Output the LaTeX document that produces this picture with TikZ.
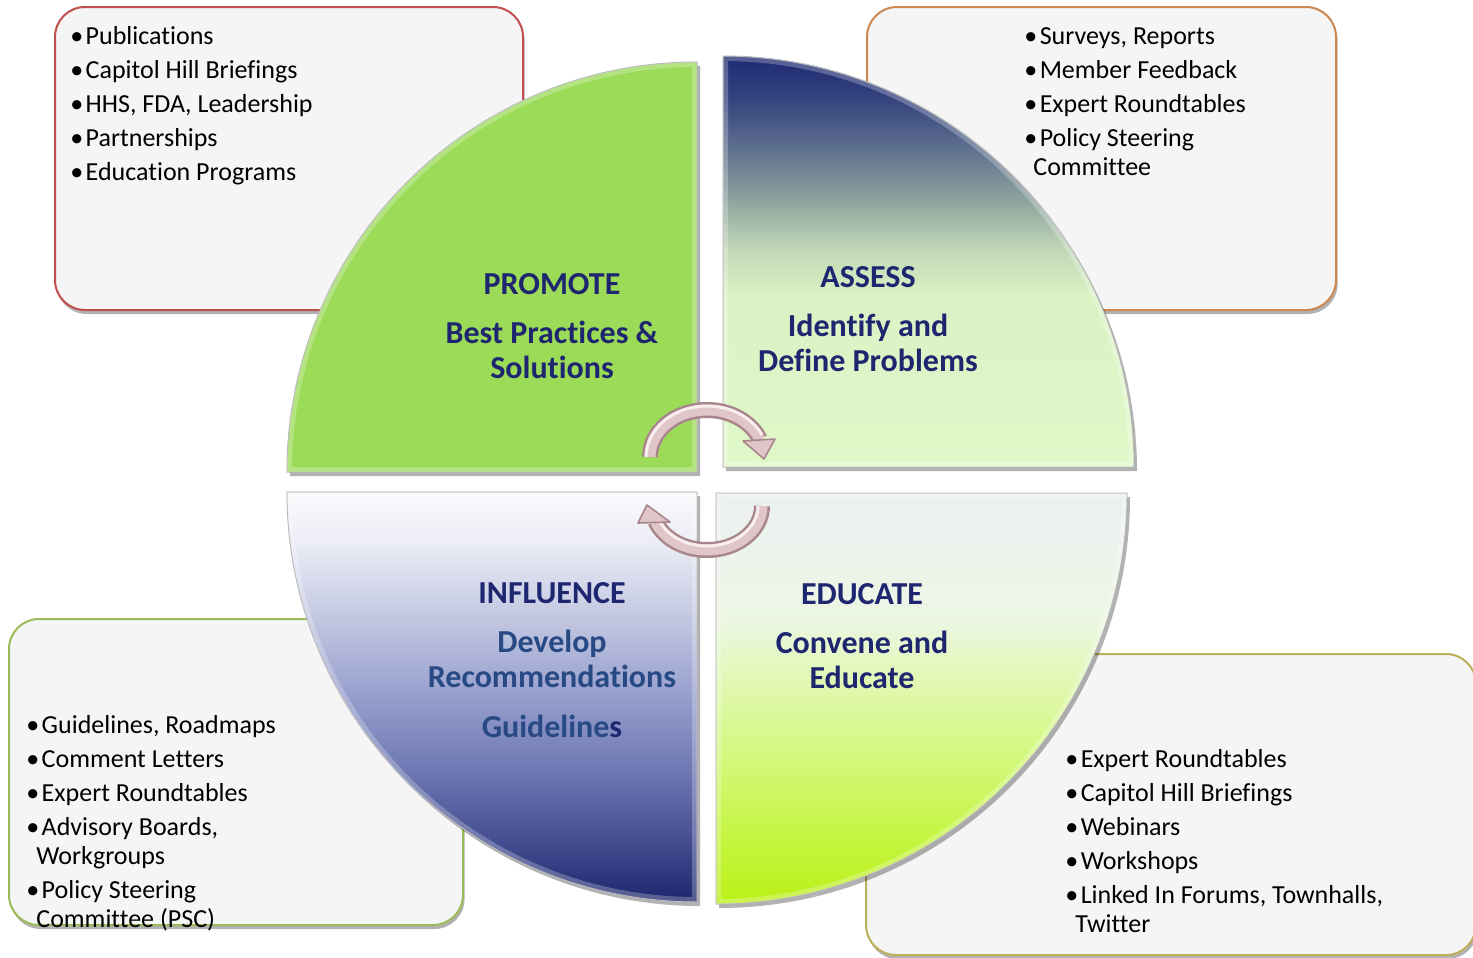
\documentclass[tikz,border=0pt]{standalone}
\usepackage{fontspec}
\setmainfont{Carlito}[Ligatures=NoCommon]
\usetikzlibrary{shadows}
\definecolor{navy}{RGB}{30,38,112}
\definecolor{steel}{RGB}{40,74,132}
\definecolor{boxfill}{RGB}{245,245,245}
\definecolor{bred}{RGB}{192,80,77}
\definecolor{borange}{RGB}{205,135,80}
\definecolor{bgreen}{RGB}{155,187,89}
\definecolor{bolive}{RGB}{190,175,90}
\definecolor{promoteg}{RGB}{156,219,88}
\definecolor{arrdark}{RGB}{168,134,139}
\definecolor{arrmid}{RGB}{224,198,201}
\definecolor{arrlight}{RGB}{248,238,239}
% assess
\definecolor{as0}{RGB}{30,42,115}
\definecolor{as1}{RGB}{52,66,126}
\definecolor{as2}{RGB}{92,110,142}
\definecolor{as3}{RGB}{142,163,160}
\definecolor{as4}{RGB}{192,216,182}
\definecolor{as5}{RGB}{218,242,196}
\definecolor{as6}{RGB}{224,248,200}
% influence
\definecolor{in0}{RGB}{250,250,252}
\definecolor{in1}{RGB}{236,237,246}
\definecolor{in2}{RGB}{196,201,226}
\definecolor{in3}{RGB}{150,158,205}
\definecolor{in4}{RGB}{105,115,175}
\definecolor{in5}{RGB}{68,78,145}
\definecolor{in6}{RGB}{28,38,108}
% educate
\definecolor{ed0}{RGB}{236,240,242}
\definecolor{ed1}{RGB}{236,246,228}
\definecolor{ed2}{RGB}{226,248,182}
\definecolor{ed3}{RGB}{210,248,122}
\definecolor{ed4}{RGB}{196,245,62}
\definecolor{ed5}{RGB}{186,240,22}
\pgfdeclareverticalshading{assessShade}{100bp}{color(0bp)=(as6); color(25bp)=(as6); color(46bp)=(as5); color(51.5bp)=(as4); color(57.5bp)=(as3); color(64bp)=(as2); color(70bp)=(as1); color(75bp)=(as0); color(100bp)=(as0)}
\pgfdeclareverticalshading{influenceShade}{100bp}{color(0bp)=(in6); color(25bp)=(in6); color(32.5bp)=(in5); color(40bp)=(in4); color(50bp)=(in3); color(60bp)=(in2); color(69bp)=(in1); color(75bp)=(in0); color(100bp)=(in0)}
\pgfdeclareverticalshading{educateShade}{100bp}{color(0bp)=(ed5); color(25bp)=(ed5); color(32.5bp)=(ed4); color(42.5bp)=(ed3); color(52.5bp)=(ed2); color(60bp)=(ed1); color(75bp)=(ed0); color(100bp)=(ed0)}
\newcommand\qPromote{(697,472) -- (287,472) arc[start angle=180, end angle=270, radius=410] -- cycle}
\newcommand\qAssess{(723,467) -- (723,56) arc[start angle=270, end angle=360, radius=411] -- cycle}
\newcommand\qInfluence{(697,492) -- (287,492) arc[start angle=180, end angle=90, radius=410] -- cycle}
\newcommand\qEducate{(716,493) -- (1127,493) arc[start angle=0, end angle=90, radius=411] -- cycle}
\newcommand\bul{•\hspace{1.2pt}}
\tikzset{
  listbox/.style={rounded corners=15pt, line width=1pt, fill=boxfill,
    drop shadow={shadow xshift=0.8pt, shadow yshift=-2pt, opacity=0.3, fill=black}},
  listtext/.style={anchor=north west, inner sep=0pt, align=left,
    font=\fontsize{13}{17}\selectfont, text=black},
  quad/.style={draw=gray!60, line width=0.5pt,
    drop shadow={shadow xshift=1.5pt, shadow yshift=-2pt, opacity=0.3, fill=black}},
  rim/.style={draw=white, opacity=0.25, line width=5pt},
  quadtext/.style={anchor=north, inner sep=0pt, align=center,
    font=\bfseries\fontsize{16}{17.5}\selectfont, text=navy},
  arrband/.style={draw=arrdark, line width=8pt},
  arrfill/.style={draw=arrmid, line width=5.5pt},
  arrshine/.style={draw=arrlight, line width=1.5pt},
  arrhead/.style={fill=arrmid, draw=arrdark, line width=0.8pt, line join=round},
}
\begin{document}
\begin{tikzpicture}[x=0.5pt, y=-0.5pt]
\useasboundingbox (0,0) rectangle (1473,958);
\fill[white] (0,0) rectangle (1473,958);

% list boxes
\draw[listbox, draw=bred] (55,7) rectangle (523,310);
\draw[listbox, draw=borange] (867,7) rectangle (1336,310);
\draw[listbox, draw=bgreen] (9,619) rectangle (463,925);
\draw[listbox, draw=bolive] (866,654) rectangle (1476,955);

\node[listtext] (promoteList) at (70,20.2) {\strut\bul Publications\\\bul Capitol Hill Briefings\\\bul HHS, FDA, Leadership\\\bul Partnerships\\\bul Education Programs};
\node[listtext] (assessList) at (1024,20.2) {\strut\bul Surveys, Reports\\\bul Member Feedback\\\bul Expert Roundtables\\\bul Policy Steering\\[-2.5pt]\hspace*{4.5pt}Committee};
\node[listtext] (influenceList) at (26,709.2) {\strut\bul Guidelines, Roadmaps\\\bul Comment Letters\\\bul Expert Roundtables\\\bul Advisory Boards,\\[-2.5pt]\hspace*{5pt}Workgroups\\\bul Policy Steering\\[-2.5pt]\hspace*{5pt}Committee (PSC)};
\node[listtext] (educateList) at (1065,743.2) {\strut\bul Expert Roundtables\\\bul Capitol Hill Briefings\\\bul Webinars\\\bul Workshops\\\bul Linked In Forums, Townhalls,\\[-2.5pt]\hspace*{5pt}Twitter};

% quadrants
\path[quad, fill=promoteg] \qPromote;
\begin{scope}\clip \qPromote; \draw[rim] \qPromote; \end{scope}
\path[quad, shade, shading=assessShade] \qAssess;
\begin{scope}\clip \qAssess; \draw[rim] \qAssess; \end{scope}
\path[quad, shade, shading=influenceShade] \qInfluence;
\begin{scope}\clip \qInfluence; \draw[rim] \qInfluence; \end{scope}
\path[quad, shade, shading=educateShade] \qEducate;
\begin{scope}\clip \qEducate; \draw[rim] \qEducate; \end{scope}

% quadrant texts
\node[quadtext] (promote) at (552,269.5) {\strut PROMOTE\\[7pt]Best Practices \&\\Solutions};
\node[quadtext] (assess) at (868,262.5) {\strut ASSESS\\[7pt]Identify and\\Define Problems};
\node[quadtext] (influence) at (552,578.5) {\strut INFLUENCE\\[7pt]\textcolor{steel}{Develop}\\\textcolor{steel}{Recommendations}\\[7.5pt]\textcolor{steel}{Guideline}s};
\node[quadtext] (educate) at (862,579.5) {\strut EDUCATE\\[7pt]Convene and\\Educate};

% cycle arrows
\coordinate (u0) at (650,457);
\coordinate (u1) at (646,457);
\path[arrband] (u0) arc[start angle=180, end angle=338, x radius=57, y radius=47];
\path[arrfill] (u0) arc[start angle=180, end angle=338, x radius=57, y radius=47];
\path[arrshine] (u1) arc[start angle=180, end angle=334, x radius=61, y radius=51];
\coordinate (uh1) at (743,441);
\coordinate (uh2) at (775,439);
\coordinate (uh3) at (764,459);
\path[arrhead] (uh1) -- (uh2) -- (uh3) -- cycle;

\coordinate (l0) at (762,506);
\coordinate (l1) at (758,506);
\path[arrband] (l0) arc[start angle=0, end angle=160, x radius=55, y radius=44];
\path[arrfill] (l0) arc[start angle=0, end angle=160, x radius=55, y radius=44];
\path[arrshine] (l1) arc[start angle=0, end angle=156, x radius=51, y radius=40];
\coordinate (lh1) at (638,523);
\coordinate (lh2) at (670,522);
\coordinate (lh3) at (647,505);
\path[arrhead] (lh1) -- (lh2) -- (lh3) -- cycle;
\end{tikzpicture}
\end{document}
